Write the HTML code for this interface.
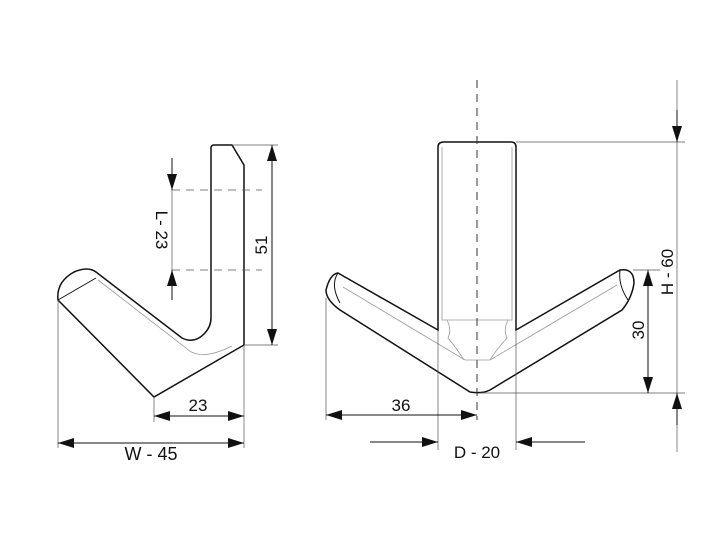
<!DOCTYPE html>
<html><head><style>body{margin:0;background:#fff}</style></head><body>
<svg width="728" height="532" viewBox="0 0 728 532" xmlns="http://www.w3.org/2000/svg" font-family="Liberation Sans, sans-serif" font-size="17" fill="none">
<defs>
<marker id="a" viewBox="0 0 16 10" refX="16" refY="5" markerWidth="16" markerHeight="10" markerUnits="userSpaceOnUse" orient="auto"><path d="M0,0L16,5L0,10z" fill="#111"/></marker>
<marker id="s" viewBox="0 0 16 10" refX="0" refY="5" markerWidth="16" markerHeight="10" markerUnits="userSpaceOnUse" orient="auto"><path d="M16,0L0,5L16,10z" fill="#111"/></marker>
</defs>
<!-- LEFT FIGURE -->
<g stroke="#111" stroke-width="1.5">
<path d="M211,318 L211,148 Q211,145 214,145 L232,145 L244,165 L244,345 L154,397 L58,300 Q56,282 74,272 Q88,266 96,272 L182,338 Q194,344 204,334 Q211,327 211,318 Z"/>
<path d="M58,300 L96,278" stroke-width="1"/>
</g>
<path d="M98,280 L186,348 Q200,362 232,346" stroke="#999" stroke-width="0.8"/>
<g stroke="#555" stroke-width="0.7">
<line x1="232" y1="145" x2="278" y2="145"/><line x1="244" y1="345" x2="278" y2="345"/>
<line x1="154" y1="397" x2="154" y2="422"/><line x1="244" y1="345" x2="244" y2="448"/>
<line x1="58" y1="300" x2="58" y2="448"/>
<line x1="172" y1="190" x2="262" y2="190" stroke-dasharray="8,6"/>
<line x1="172" y1="270" x2="262" y2="270" stroke-dasharray="8,6"/>
</g>
<g stroke="#111" stroke-width="1">
<line x1="272" y1="145" x2="272" y2="345" marker-start="url(#s)" marker-end="url(#a)"/>
<line x1="172" y1="158" x2="172" y2="190" marker-end="url(#a)"/>
<line x1="172" y1="300" x2="172" y2="270" marker-end="url(#a)"/>
<line x1="172" y1="190" x2="172" y2="270" stroke="#555" stroke-width="0.7"/>
<line x1="154" y1="416" x2="244" y2="416" marker-start="url(#s)" marker-end="url(#a)"/>
<line x1="58" y1="443" x2="244" y2="443" marker-start="url(#s)" marker-end="url(#a)"/>
</g>
<g fill="#111">
<text x="198" y="411" text-anchor="middle">23</text>
<text x="151" y="460" text-anchor="middle" font-size="18">W - 45</text>
<text transform="translate(267,245) rotate(-90)" text-anchor="middle">51</text>
<text transform="translate(156,230) rotate(90)" text-anchor="middle">L- 23</text>
</g>
<!-- RIGHT FIGURE -->
<g stroke="#111" stroke-width="1.5">
<path d="M438,330 L438,147 Q438,142 444,142 L511,142 Q516,142 516,147 L516,330 L620,270 Q634,268 634,283 Q632,298 622,310 L490,390 Q482,394 470,392 L340,310 Q326,300 326,290 Q330,274 338,273 Z"/>
</g>
<g stroke="#999" stroke-width="0.8">
<path d="M343,287 L465,360 L490,360 L617,285"/>
<path d="M442,147 L442,320 L512,320 L512,147"/>
<path d="M447,320 Q452,330 448,338 Q458,350 464,360 M508,320 Q503,330 507,338 Q496,350 490,360"/>
</g>
<g stroke="#111" stroke-width="1">
<path d="M338,273 Q330,285 340,303"/>
<path d="M620,270 Q618,285 628,300"/>
</g>
<line x1="477" y1="80" x2="477" y2="420" stroke="#333" stroke-width="1" stroke-dasharray="8,6"/>
<g stroke="#555" stroke-width="0.7">
<line x1="516" y1="142" x2="685" y2="142"/><line x1="480" y1="393" x2="685" y2="393"/>
<line x1="633" y1="270" x2="660" y2="270"/>
<line x1="326" y1="298" x2="326" y2="420"/>
<line x1="438" y1="330" x2="438" y2="450"/><line x1="516" y1="330" x2="516" y2="450"/>
<line x1="677" y1="80" x2="677" y2="452"/>
</g>
<g stroke="#111" stroke-width="1">
<line x1="677" y1="110" x2="677" y2="142" marker-end="url(#a)"/>
<line x1="677" y1="425" x2="677" y2="393" marker-end="url(#a)"/>
<line x1="648" y1="270" x2="648" y2="393" marker-start="url(#s)" marker-end="url(#a)"/>
<line x1="326" y1="415" x2="477" y2="415" marker-start="url(#s)" marker-end="url(#a)"/>
<line x1="370" y1="442" x2="438" y2="442" marker-end="url(#a)"/>
<line x1="585" y1="442" x2="516" y2="442" marker-end="url(#a)"/>
</g>
<g fill="#111">
<text x="401" y="411" text-anchor="middle">36</text>
<text x="477" y="458" text-anchor="middle">D - 20</text>
<text transform="translate(673,272) rotate(-90)" text-anchor="middle">H - 60</text>
<text transform="translate(644,330) rotate(-90)" text-anchor="middle">30</text>
</g>
</svg>
</body></html>
